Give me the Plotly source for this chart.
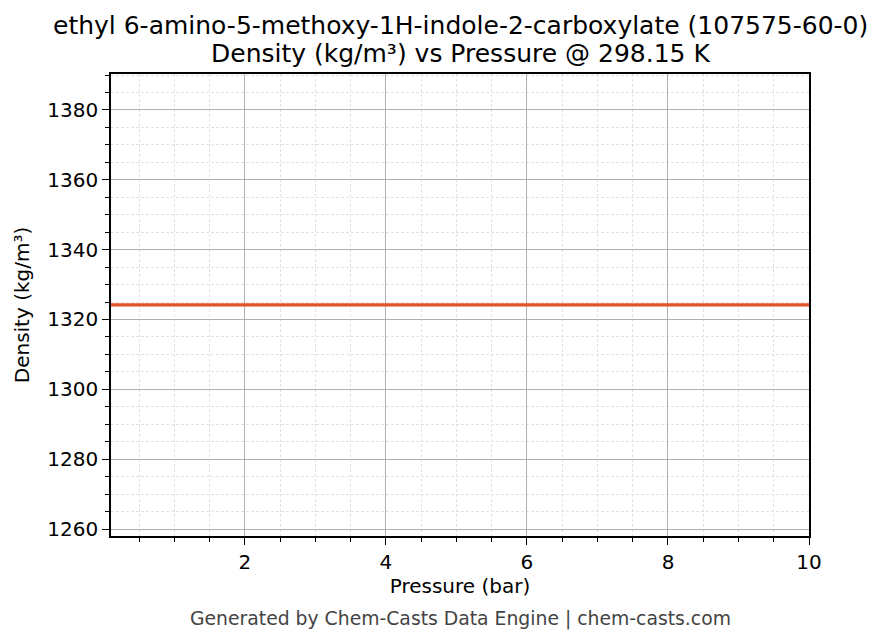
import plotly.graph_objects as go

# data
pressure_bar = [0.1, 1, 2, 3, 4, 5, 6, 7, 8, 9, 10]
density_kgm3 = [1324.2, 1324.2, 1324.2, 1324.2, 1324.2, 1324.2, 1324.2, 1324.2, 1324.2, 1324.2, 1324.2]

title_line1 = "ethyl 6-amino-5-methoxy-1H-indole-2-carboxylate (107575-60-0)"
title_line2 = "Density (kg/m³) vs Pressure @ 298.15 K"
footer = "Generated by Chem-Casts Data Engine | chem-casts.com"

font_family = "DejaVu Sans"

# page body adds ~8px offset, so the figure is a bit smaller than the window
W, H = 874, 636
L, R, T, B = 103, 73, 66, 108
plot_h = H - T - B


def paper_y(px):
    # figure pixel row -> paper coordinate
    return (H - B - px) / plot_h


fig = go.Figure()
fig.add_trace(
    go.Scatter(
        x=pressure_bar,
        y=density_kgm3,
        mode="lines",
        line=dict(color="#E0522A", width=3.2),
        showlegend=False,
    )
)

axis_common = dict(
    showline=True,
    linecolor="black",
    linewidth=1.5,
    mirror=True,
    ticks="outside",
    ticklen=7,
    tickwidth=1.4,
    tickcolor="black",
    showgrid=True,
    gridcolor="#b0b0b0",
    gridwidth=0.9,
    zeroline=False,
    tickfont=dict(family=font_family, size=20, color="black"),
)

minor_common = dict(
    ticks="outside",
    ticklen=4,
    tickwidth=1,
    tickcolor="black",
    showgrid=True,
    gridcolor="#e2e2e2",
    griddash="3px,2px",
    gridwidth=0.7,
)

fig.update_layout(
    width=W,
    height=H,
    plot_bgcolor="white",
    paper_bgcolor="white",
    margin=dict(l=L, r=R, t=T, b=B),
    font=dict(family=font_family, color="black"),
    xaxis=dict(
        axis_common,
        range=[0.1, 10],
        tick0=0,
        dtick=2,
        title=dict(text="Pressure (bar)", font=dict(size=20), standoff=6),
        minor=dict(minor_common, dtick=0.5, tick0=0),
    ),
    yaxis=dict(
        axis_common,
        range=[1258, 1390.3],
        tick0=0,
        dtick=20,
        title=dict(text="Density (kg/m³)", font=dict(size=20), standoff=12),
        minor=dict(minor_common, dtick=5, tick0=0),
    ),
)

# two-line title
fig.add_annotation(
    text=title_line1, xref="paper", yref="paper", x=0.5, y=paper_y(17),
    xanchor="center", yanchor="middle", showarrow=False,
    font=dict(family=font_family, size=25, color="black"),
)
fig.add_annotation(
    text=title_line2, xref="paper", yref="paper", x=0.5, y=paper_y(45),
    xanchor="center", yanchor="middle", showarrow=False,
    font=dict(family=font_family, size=25, color="black"),
)

fig.add_annotation(
    text=footer, xref="paper", yref="paper", x=0.5, y=paper_y(611),
    xanchor="center", yanchor="middle", showarrow=False,
    font=dict(family=font_family, size=18.8, color="#444444"),
)

fig.write_html("out.html")
